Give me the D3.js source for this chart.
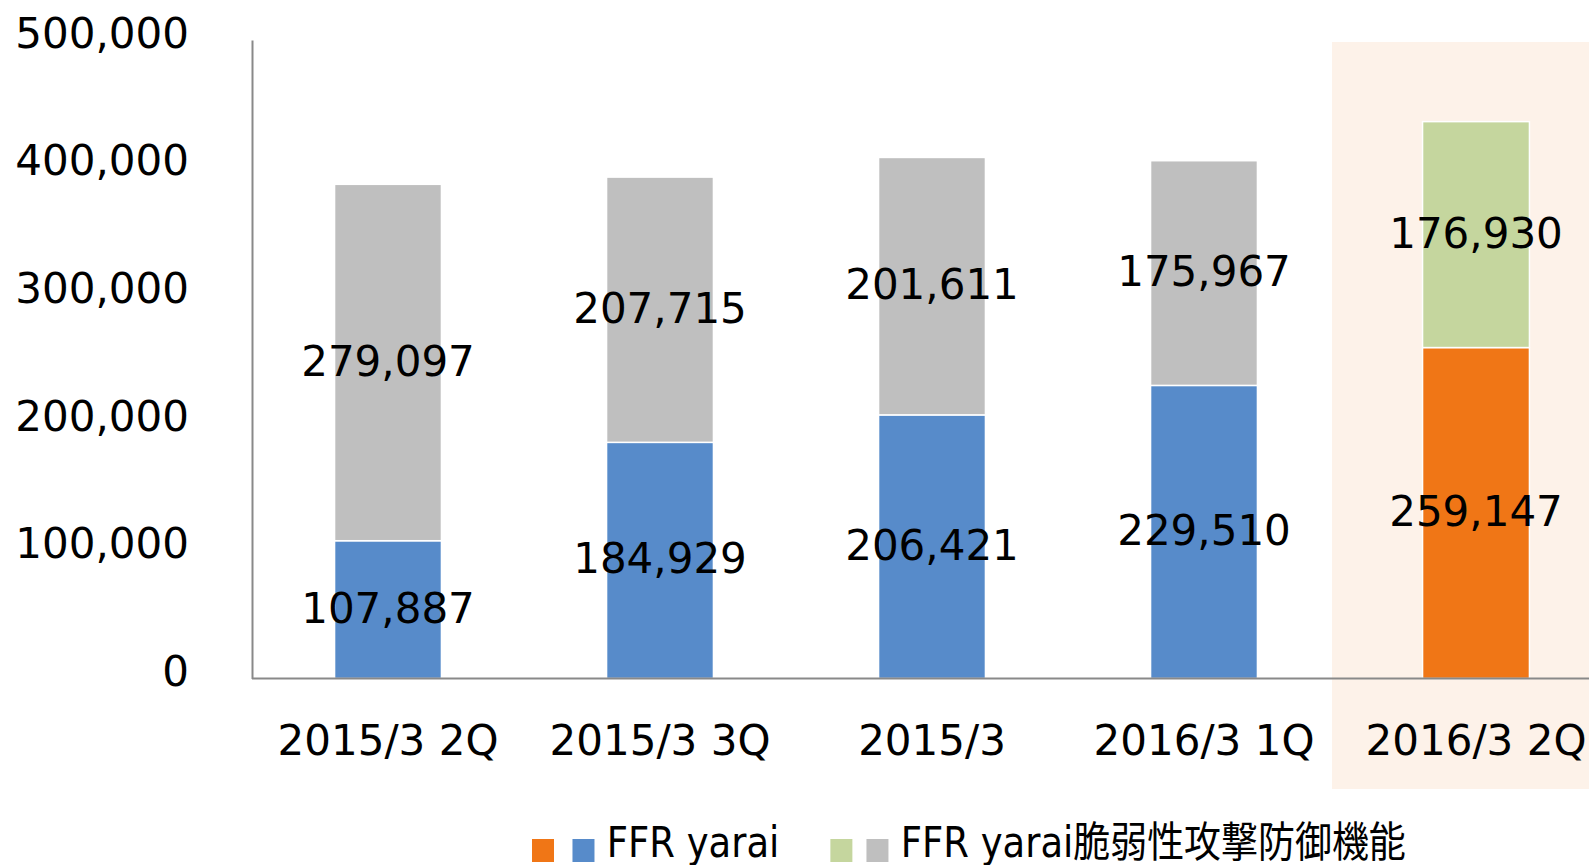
<!DOCTYPE html>
<html>
<head>
<meta charset="utf-8">
<script src="https://cdn.jsdelivr.net/npm/d3@7"></script>
<style>
    html, body { margin: 0; padding: 0; background: #fff; overflow: hidden; }
    svg text { font-family: 'DejaVu Sans', 'Noto Sans CJK JP', sans-serif; fill: #000; }
</style>
</head>
<body>
<div id="chart"></div>
<script>
const categories = ['2015/3 2Q', '2015/3 3Q', '2015/3', '2016/3 1Q', '2016/3 2Q'];
const baseValues = [107887, 184929, 206421, 229510, 259147];
const topValues = [279097, 207715, 201611, 175967, 176930];
const yTicks = [0, 100000, 200000, 300000, 400000, 500000];
const highlightCategory = '2016/3 2Q';
const legendItems = [
    { label: 'FFR yarai', colors: ['#f07616', '#578bca'] },
    { label: 'FFR yarai脆弱性攻撃防御機能', colors: ['#c5d69e', '#bfbfbf'] }
];

const width = 1589, height = 865;
const margin = { top: 40, left: 252, bottom: 186 };
const colors = {
    base: '#578bca', top: '#bfbfbf',
    baseHi: '#f07616', topHi: '#c5d69e',
    highlight: '#fdf2e9', axis: '#898989'
};

const svg = d3.select('#chart')
    .append('svg')
    .attr('width', width)
    .attr('height', height);

const x = d3.scaleBand()
    .domain(categories)
    .range([margin.left, margin.left + 272 * categories.length])
    .paddingInner(0.607)
    .paddingOuter(0.3035);

const y = d3.scaleLinear()
    .domain([0, 500000])
    .range([height - margin.bottom - 0.5, margin.top]);

const fmt = d3.format(',');

// highlighted period background
const hx = x(highlightCategory) - x.step() * x.paddingInner() / 2 - 8;
svg.append('rect')
    .attr('x', hx)
    .attr('y', margin.top + 2)
    .attr('width', width - hx)
    .attr('height', 789 - margin.top - 2)
    .attr('fill', colors.highlight);

const rows = categories.map((c, i) => ({ cat: c, base: baseValues[i], top: topValues[i], hi: c === highlightCategory }));

const bars = svg.append('g');
rows.forEach(d => {
    bars.append('rect')
        .attr('x', x(d.cat))
        .attr('width', x.bandwidth())
        .attr('y', y(d.base))
        .attr('height', y(0) - y(d.base))
        .attr('fill', d.hi ? colors.baseHi : colors.base)
        .attr('stroke', '#fff')
        .attr('stroke-width', 1.5);
    bars.append('rect')
        .attr('x', x(d.cat))
        .attr('width', x.bandwidth())
        .attr('y', y(d.base + d.top))
        .attr('height', y(d.base) - y(d.base + d.top))
        .attr('fill', d.hi ? colors.topHi : colors.top)
        .attr('stroke', '#fff')
        .attr('stroke-width', 1.5);
});

// value labels centred in each segment
const labels = svg.append('g')
    .attr('text-anchor', 'middle')
    .style('font-size', '42px');
rows.forEach(d => {
    const cx = x(d.cat) + x.bandwidth() / 2;
    labels.append('text')
        .attr('x', cx)
        .attr('y', (y(0) + y(d.base)) / 2 + 13)
        .text(fmt(d.base));
    labels.append('text')
        .attr('x', cx)
        .attr('y', (y(d.base) + y(d.base + d.top)) / 2 + 13)
        .text(fmt(d.top));
});

// axes
const yAxis = svg.append('g')
    .attr('transform', `translate(${margin.left},0)`)
    .call(d3.axisLeft(y).tickValues(yTicks).tickSize(0).tickPadding(63).tickFormat(fmt));
yAxis.select('.domain').attr('stroke', colors.axis).attr('stroke-width', 2);
yAxis.selectAll('text')
    .attr('font-family', null)
    .style('font-size', '42px')
    .attr('dy', null)
    .attr('y', 7);

const xAxis = svg.append('g')
    .attr('transform', `translate(0,${y(0)})`)
    .call(d3.axisBottom(x).tickSize(0).tickPadding(0));
xAxis.select('.domain')
    .attr('d', `M${margin.left},0H${width}`)
    .attr('stroke', colors.axis)
    .attr('stroke-width', 2);
xAxis.selectAll('text')
    .attr('font-family', null)
    .style('font-size', '42px')
    .attr('dy', null)
    .attr('y', 76);

// legend (rendered slightly condensed, as in the source)
const legend = svg.append('g')
    .attr('transform', 'translate(532,0) scale(0.88,1)');
let lx = 0;
legendItems.forEach((item, i) => {
    const sq = i === 0 ? 46 : 41;
    item.colors.forEach((c, j) => {
        legend.append('rect')
            .attr('x', lx + j * sq)
            .attr('y', 839)
            .attr('width', 25)
            .attr('height', 23)
            .attr('fill', c);
    });
    const t = legend.append('text')
        .attr('x', lx + sq + 39)
        .attr('y', 857)
        .style('font-size', '42px')
        .text(item.label);
    lx += sq + 39 + t.node().getComputedTextLength() + 58;
});
</script>
</body>
</html>
